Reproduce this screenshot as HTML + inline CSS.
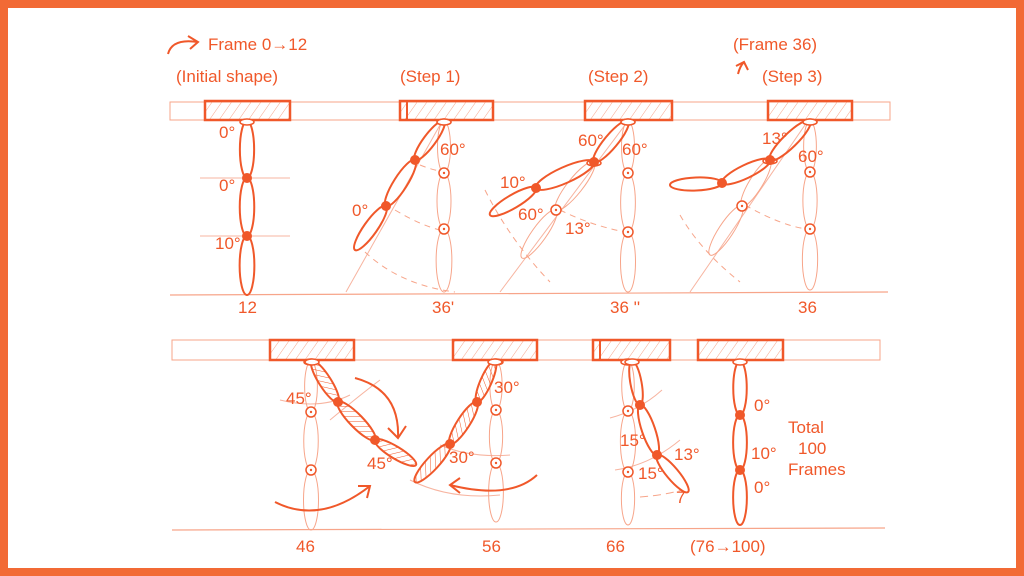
<!DOCTYPE html>
<html><head><meta charset="utf-8"><style>
html,body{margin:0;padding:0;background:#fff}
svg{display:block}
text{font-family:"Liberation Sans",sans-serif;fill:#f0582a;font-size:17px}
</style></head><body>
<svg id="s" width="1024" height="576" viewBox="0 0 1024 576" xmlns="http://www.w3.org/2000/svg">
<defs>
<pattern id="h" width="8" height="8" patternUnits="userSpaceOnUse" patternTransform="rotate(35)">
<line x1="0" y1="0" x2="0" y2="8" stroke="#f7a58a" stroke-width="1"/></pattern>
<pattern id="h2" width="5" height="5" patternUnits="userSpaceOnUse" patternTransform="rotate(45)">
<line x1="0" y1="0" x2="0" y2="5" stroke="#f0582a" stroke-width="1"/></pattern>
</defs>
<rect x="4" y="4" width="1016" height="568" fill="#fff" stroke="#f26a35" stroke-width="8"/>
<g id="g" fill="none" stroke="#f0582a"></g>
<text x="208" y="50" font-size="21">Frame 0→12</text>
<text x="176" y="82" font-size="21">(Initial shape)</text>
<text x="400" y="82" font-size="21">(Step 1)</text>
<text x="588" y="82" font-size="21">(Step 2)</text>
<text x="733" y="50" font-size="21">(Frame 36)</text>
<text x="762" y="82" font-size="21">(Step 3)</text>
<text x="219" y="138">0°</text><text x="219" y="191">0°</text><text x="215" y="249">10°</text>
<text x="440" y="155">60°</text><text x="352" y="216">0°</text>
<text x="578" y="146">60°</text><text x="622" y="155">60°</text><text x="500" y="188">10°</text><text x="518" y="220">60°</text><text x="565" y="234">13°</text>
<text x="762" y="144">13°</text><text x="798" y="162">60°</text>
<text x="238" y="313">12</text><text x="432" y="313">36'</text><text x="610" y="313">36 ''</text><text x="798" y="313">36</text>
<text x="286" y="404">45°</text><text x="367" y="469">45°</text>
<text x="494" y="393">30°</text><text x="449" y="463">30°</text>
<text x="620" y="446">15°</text><text x="638" y="479">15°</text><text x="674" y="460">13°</text><text x="676" y="503">7</text>
<text x="754" y="411">0°</text><text x="751" y="459">10°</text><text x="754" y="493">0°</text>
<text x="788" y="433">Total</text><text x="798" y="454">100</text><text x="788" y="475">Frames</text>
<text x="296" y="552">46</text><text x="482" y="552">56</text><text x="606" y="552">66</text><text x="690" y="552" font-size="18">(76→100)</text>
</svg>
<script>
var g=document.getElementById('g'),NS='http://www.w3.org/2000/svg';
function el(t,a){var e=document.createElementNS(NS,t);for(var k in a)e.setAttribute(k,a[k]);g.appendChild(e);return e;}
function L(x1,y1,x2,y2,c,w,d){el('line',{x1:x1,y1:y1,x2:x2,y2:y2,stroke:c||'#f7b4a0','stroke-width':w||1,'stroke-dasharray':d||''});}
function leaf(a,b,op,fill){var cx=(a[0]+b[0])/2,cy=(a[1]+b[1])/2,dx=b[0]-a[0],dy=b[1]-a[1];var l=Math.sqrt(dx*dx+dy*dy),an=Math.atan2(dy,dx)*180/Math.PI;
el('ellipse',{cx:cx,cy:cy,rx:l/2,ry:Math.max(5,l/8),transform:'rotate('+an+' '+cx+' '+cy+')',stroke:op?'#f7a58a':'#f0582a','stroke-width':op?1:2,fill:fill||'none'});}
function chain(p,op,fill){for(var i=0;i<p.length-1;i++)leaf(p[i],p[i+1],op,fill);
for(var i=1;i<p.length-1;i++){if(op){el('circle',{cx:p[i][0],cy:p[i][1],r:5,fill:'#fff',stroke:'#f0582a','stroke-width':1.5});el('circle',{cx:p[i][0],cy:p[i][1],r:1.2,fill:'#f0582a',stroke:'none'});}
else el('circle',{cx:p[i][0],cy:p[i][1],r:5,fill:'#f0582a',stroke:'none'});}
el('ellipse',{cx:p[0][0],cy:p[0][1]+1,rx:7,ry:3,fill:'#fff',stroke:'#f0582a','stroke-width':1.5});}
function block(x1,x2,y1,y2){el('rect',{x:x1,y:y1,width:x2-x1,height:y2-y1,fill:'url(#h)',stroke:'#f0582a','stroke-width':2.5});}
el('rect',{x:170,y:102,width:720,height:18,stroke:'#f7a58a','stroke-width':1,fill:'none'});
el('rect',{x:172,y:340,width:708,height:20,stroke:'#f7a58a','stroke-width':1,fill:'none'});
L(170,295,888,292,'#f7a58a',1.2);L(172,530,885,528,'#f7a58a',1.2);
block(205,290,101,120);block(400,493,101,120);L(407,101,407,120,'#f0582a',2);
block(585,672,101,120);block(768,852,101,120);
block(270,354,340,360);block(453,537,340,360);block(593,670,340,360);L(600,340,600,360,'#f0582a',2);block(698,783,340,360);
L(200,178,290,178);L(200,236,290,236);
L(346,292,440,125);L(500,292,625,125);L(690,292,805,125);
el('path',{d:'M365 252 Q400 285 455 292',stroke:'#f7a58a','stroke-dasharray':'6 5'});
el('path',{d:'M395 210 Q420 225 440 230',stroke:'#f7a58a','stroke-dasharray':'6 5'});
el('path',{d:'M420 165 Q432 170 445 172',stroke:'#f7a58a','stroke-dasharray':'6 5'});
el('path',{d:'M485 190 Q510 240 550 282',stroke:'#f7a58a','stroke-dasharray':'6 5'});
el('path',{d:'M560 210 Q590 225 625 232',stroke:'#f7a58a','stroke-dasharray':'6 5'});
el('path',{d:'M680 215 Q700 250 740 282',stroke:'#f7a58a','stroke-dasharray':'6 5'});
el('path',{d:'M745 205 Q780 225 806 229',stroke:'#f7a58a','stroke-dasharray':'6 5'});
el('path',{d:'M330 420 Q360 395 380 380',stroke:'#f7b4a0'});el('path',{d:'M280 400 Q320 410 350 395',stroke:'#f7b4a0'});
el('path',{d:'M410 480 Q450 500 500 495',stroke:'#f7b4a0'});el('path',{d:'M440 445 Q470 458 510 455',stroke:'#f7b4a0'});
el('path',{d:'M640 497 Q665 495 682 490',stroke:'#f7a58a','stroke-dasharray':'8 5'});
el('path',{d:'M610 418 Q640 410 662 390',stroke:'#f7b4a0'});el('path',{d:'M615 470 Q650 465 680 440',stroke:'#f7b4a0'});
chain([[247,121],[247,178],[247,236],[247,295]]);
chain([[444,121],[444,173],[444,229],[444,292]],1);
chain([[444,121],[415,160],[386,206],[355,250]]);
chain([[628,121],[628,173],[628,232],[628,292]],1);
chain([[594,162],[556,210],[522,258]],1);
chain([[628,121],[594,162],[536,188],[490,215]]);
chain([[810,121],[810,172],[810,229],[810,290]],1);
chain([[770,160],[742,206],[710,255]],1);
chain([[810,121],[770,160],[722,183],[670,185]]);
chain([[311,361],[311,412],[311,470],[311,530]],1);
chain([[312,361],[338,402],[375,440],[416,465]],0,'url(#h2)');
chain([[496,361],[496,410],[496,463],[496,522]],1);
chain([[495,361],[477,402],[450,444],[415,482]],0,'url(#h2)');
chain([[628,361],[628,411],[628,472],[628,525]],1);
chain([[632,361],[640,405],[657,455],[688,492]]);
chain([[740,361],[740,415],[740,470],[740,525]]);
function arr(d,ax,ay,bx,by,cx,cy){el('path',{d:d,stroke:'#f0582a','stroke-width':2});el('path',{d:'M'+ax+' '+ay+' L'+bx+' '+by+' L'+cx+' '+cy,stroke:'#f0582a','stroke-width':2});}
arr('M355 378 Q400 390 398 438',388,428,398,438,406,426);
arr('M275 502 Q320 525 370 486',358,486,370,486,367,498);
arr('M537 475 Q510 500 450 485',460,478,450,485,460,493);
arr('M168 54 Q172 38 198 42',188,36,198,42,190,49);
arr('M738 74 Q740 66 744 62',736,66,744,62,748,70);
</script>
</body></html>
